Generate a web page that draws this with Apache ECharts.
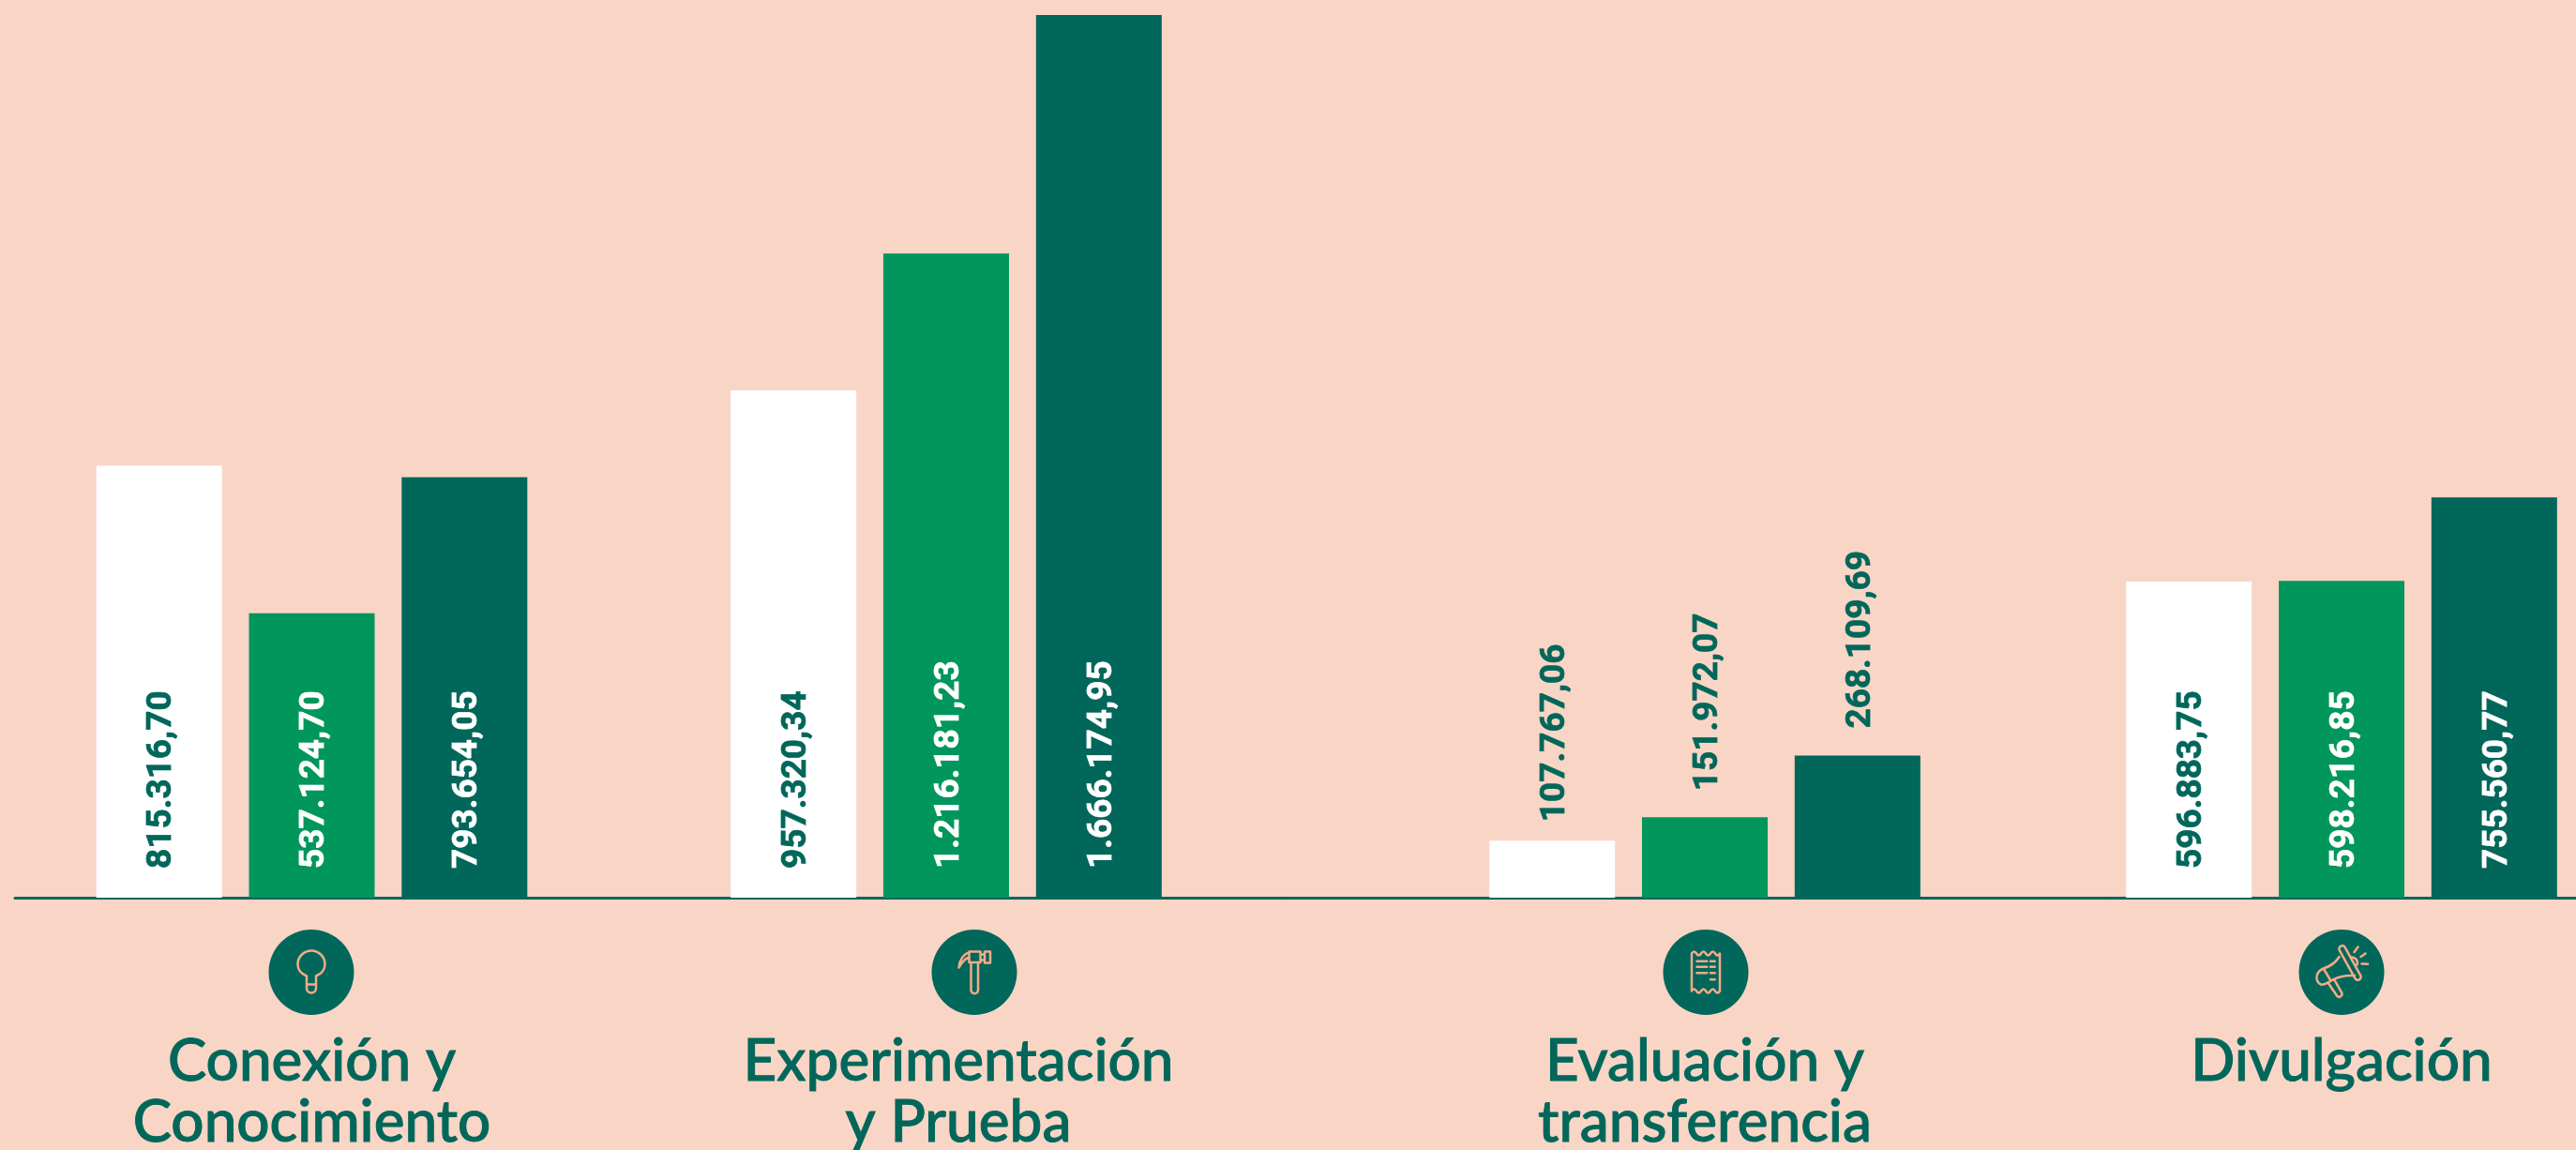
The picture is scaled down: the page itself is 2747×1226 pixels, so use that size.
<!DOCTYPE html>
<html>
<head>
<meta charset="utf-8">
<style>
  html, body { margin: 0; padding: 0; background: #F9D5C6; }
  #chart { width: 2747px; height: 1226px; }
</style>
<script src="https://cdn.jsdelivr.net/npm/echarts@6/dist/echarts.min.js"></script>
</head>
<body>
<div id="chart"></div>
<script>
// datos
const categories = ['Conexión y\nConocimiento', 'Experimentación\ny Prueba', 'Evaluación y\ntransferencia', 'Divulgación'];
const valuesWhite = [815316.70, 957320.34, 107767.06, 596883.75];
const valuesGreen = [537124.70, 1216181.23, 151972.07, 598216.85];
const valuesDark = [793654.05, 1666174.95, 268109.69, 755560.77];

const BG = '#F9D5C6', DARK = '#00675A', GREEN = '#00965C', PEACH = '#F4AA88';

// each group sits in its own grid because the groups are not evenly spaced
const groupSpans = [[16, 649], [649, 1369], [1369, 2267], [2247, 2747]];
const labelShift = [0, 26, 0, 0];
const iconCenters = [332, 1039, 1819, 2497];
const iconPaths = [
    'M-5,4 V17 A5,5 0 0 0 5,17 V4 C11,1.5 14.5,-3 14.5,-8.5 A14.5,14.5 0 1 0 -14.5,-8.5 C-14.5,-3 -11,1.5 -5,4 Z M-5,13 H5',
    'M-5.5,-22 H6.5 V-10.5 H-5.5 Z M-3.5,-10.5 V19 A3.7,3.7 0 0 0 4,19 V-10.5 M6.5,-19 H11 V-13 H6.5 M11,-22 H17 V-10 H11 Z M-5.5,-21 C-11,-20 -16,-13 -16.5,-5 C-13,-11 -9,-15 -5.5,-16',
    'M-15,-20 Q-12.5,-24 -10,-20 T-5,-20 T0,-20 T5,-20 T10,-20 T15,-20 V20 Q12.5,24 10,20 T5,20 T0,20 T-5,20 T-10,20 T-15,20 Z M-9.5,-11.7 H1.3 M-9.5,-5.7 H1.3 M-9.5,0.7 H1.3 M5,-11.7 H9.7 M5,-5.7 H9.7 M5,0.7 H9.7 M5,7.7 H9.7',
    'M3.6,-26.6 L20.2,3.4 A3.3,3.3 0 0 1 14.4,6.6 L-2.2,-23.4 A3.3,3.3 0 0 1 3.6,-26.6 Z M-2.5,-16.5 C-7,-9 -13,-6 -19.3,-4 C-27,-1 -29,8 -23,12.5 C-20,15 -15,11 -10,8.3 C-4,5 6,3 14,3.5 M-19.3,-4 L-11.5,9 M-14,11.7 L-5,25 A3,3 0 0 0 0,21.7 L-8,7.3 M13.5,-21.5 L17.5,-27 M20.5,-16.5 L25.5,-20 M21.5,-9 L28,-8.7 M10,-16 A6,6 0 0 1 16.5,-8'
];

const seriesDefs = [
    { data: valuesWhite, color: '#FFFFFF', text: DARK, gap: 20 },
    { data: valuesGreen, color: GREEN, text: '#FFFFFF', gap: 28 },
    { data: valuesDark, color: DARK, text: '#FFFFFF', gap: 29 }
];
const maxValue = Math.max(...valuesDark);
const fmt = new Intl.NumberFormat('es-ES', { minimumFractionDigits: 2, maximumFractionDigits: 2 });

// graphic has no path type, so the line icons go in as small svg images
function iconImage(d) {
    const svg = '<svg xmlns="http://www.w3.org/2000/svg" width="92" height="92" viewBox="-46 -46 92 92">'
        + '<path d="' + d + '" fill="none" stroke="' + PEACH + '" stroke-width="2.5" stroke-linecap="round" stroke-linejoin="round"/></svg>';
    return 'data:image/svg+xml;charset=utf-8,' + encodeURIComponent(svg);
}

const grids = [], xAxes = [], yAxes = [], series = [], graphics = [];

categories.forEach((name, i) => {
    // outerBoundsMode none: otherwise v6 shrinks the grid to keep two-line labels on the canvas
    grids.push({ left: groupSpans[i][0], width: groupSpans[i][1] - groupSpans[i][0], top: 16, height: 941, outerBoundsMode: 'none' });
    xAxes.push({
        type: 'category', gridIndex: i, data: [name], offset: 2,
        axisLine: { show: true, lineStyle: { color: DARK, width: 3 } },
        axisTick: { show: false },
        axisLabel: {
            interval: 0, margin: 140, color: DARK,
            fontFamily: 'Lato', fontSize: 62, fontWeight: 500, lineHeight: 65,
            textBorderColor: DARK, textBorderWidth: 1,
            padding: [0, 0, 0, labelShift[i]]
        }
    });
    yAxes.push({ type: 'value', gridIndex: i, min: 0, max: maxValue, show: false });
    seriesDefs.forEach(def => {
        const v = def.data[i];
        // short bars carry the number above them
        const inside = v > 300000;
        const textColor = inside ? def.text : DARK;
        series.push({
            type: 'bar', xAxisIndex: i, yAxisIndex: i,
            barWidth: 134, barGap: '21.5%',
            itemStyle: { color: def.color },
            data: [{
                value: v,
                label: {
                    show: true, rotate: 90, align: 'left', verticalAlign: 'middle',
                    position: inside ? 'insideBottom' : 'top',
                    distance: inside ? 31 : def.gap,
                    offset: [0, 3.5],
                    formatter: () => fmt.format(v),
                    color: textColor,
                    textBorderColor: textColor, textBorderWidth: 0.7,
                    fontFamily: 'Roboto', fontWeight: 700, fontSize: 37
                }
            }]
        });
    });
    graphics.push({
        type: 'group', x: iconCenters[i], y: 1036.5,
        children: [
            { type: 'circle', shape: { cx: 0, cy: 0, r: 45.5 }, style: { fill: DARK } },
            { type: 'image', style: { image: iconImage(iconPaths[i]), x: -46, y: -46, width: 92, height: 92 } }
        ]
    });
});

const myChart = echarts.init(document.getElementById('chart'));
myChart.setOption({
    backgroundColor: BG,
    animation: false,
    grid: grids,
    xAxis: xAxes,
    yAxis: yAxes,
    series: series,
    graphic: graphics
});
</script>
</body>
</html>
